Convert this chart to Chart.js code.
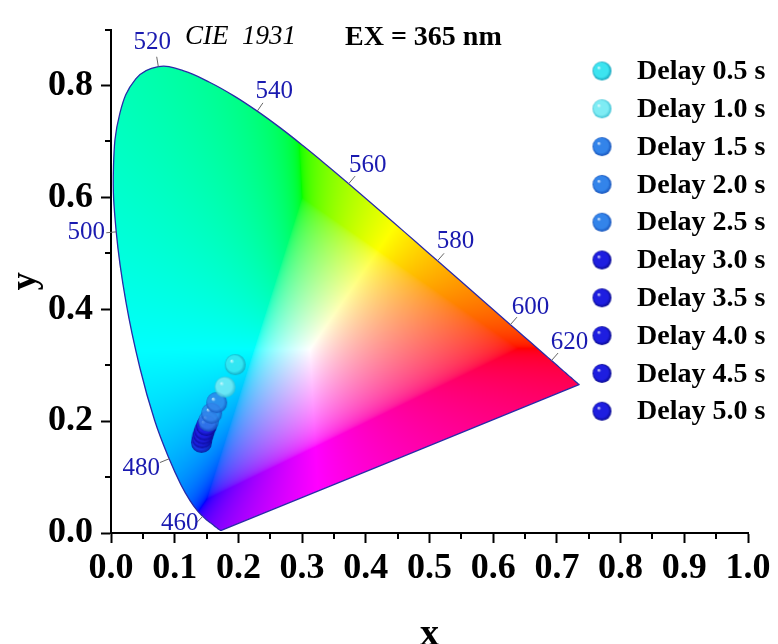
<!DOCTYPE html>
<html>
<head>
<meta charset="utf-8">
<script src="https://cdn.jsdelivr.net/npm/chart.js@4.4.1/dist/chart.umd.min.js"></script>
<style>
  body { margin: 0; background: #fff; }
  canvas { display: block; }
</style>
</head>
<body>
<canvas id="cie" width="778" height="644"></canvas>
<script>
// measured CIE coordinates of the afterglow at each delay
const delayLabels = ['Delay 0.5 s', 'Delay 1.0 s', 'Delay 1.5 s', 'Delay 2.0 s', 'Delay 2.5 s',
                     'Delay 3.0 s', 'Delay 3.5 s', 'Delay 4.0 s', 'Delay 4.5 s', 'Delay 5.0 s'];
const delayX = [0.195, 0.179, 0.166, 0.158, 0.153, 0.150, 0.147, 0.145, 0.143, 0.142];
const delayY = [0.301, 0.261, 0.233, 0.214, 0.200, 0.192, 0.184, 0.177, 0.170, 0.162];

// CIE 1931 2deg spectral locus (5 nm steps)
const locusNm = [380, 385, 390, 395, 400, 405, 410, 415, 420, 425, 430, 435, 440, 445, 450, 455,
                 460, 465, 470, 475, 480, 485, 490, 495, 500, 505, 510, 515, 520, 525, 530, 535,
                 540, 545, 550, 555, 560, 565, 570, 575, 580, 585, 590, 595, 600, 605, 610, 615,
                 620, 625, 630, 635, 640, 645, 650, 655, 660, 665, 670, 675, 680, 700];
const locusX = [0.1741, 0.1740, 0.1738, 0.1736, 0.1733, 0.1730, 0.1726, 0.1721, 0.1714, 0.1703,
                0.1689, 0.1669, 0.1644, 0.1611, 0.1566, 0.1510, 0.1440, 0.1355, 0.1241, 0.1096,
                0.0913, 0.0687, 0.0454, 0.0235, 0.0082, 0.0039, 0.0139, 0.0389, 0.0743, 0.1142,
                0.1547, 0.1929, 0.2296, 0.2658, 0.3016, 0.3373, 0.3731, 0.4087, 0.4441, 0.4788,
                0.5125, 0.5448, 0.5752, 0.6029, 0.6270, 0.6482, 0.6658, 0.6801, 0.6915, 0.7006,
                0.7079, 0.7140, 0.7190, 0.7230, 0.7260, 0.7283, 0.7300, 0.7311, 0.7320, 0.7327,
                0.7334, 0.7347];
const locusY = [0.0050, 0.0050, 0.0049, 0.0049, 0.0048, 0.0048, 0.0048, 0.0048, 0.0051, 0.0058,
                0.0069, 0.0086, 0.0109, 0.0138, 0.0177, 0.0227, 0.0297, 0.0399, 0.0578, 0.0868,
                0.1327, 0.2007, 0.2950, 0.4127, 0.5384, 0.6548, 0.7502, 0.8120, 0.8338, 0.8262,
                0.8059, 0.7816, 0.7543, 0.7243, 0.6923, 0.6589, 0.6245, 0.5896, 0.5547, 0.5202,
                0.4866, 0.4544, 0.4242, 0.3965, 0.3725, 0.3514, 0.3340, 0.3197, 0.3083, 0.2993,
                0.2920, 0.2859, 0.2809, 0.2770, 0.2740, 0.2717, 0.2700, 0.2689, 0.2680, 0.2673,
                0.2666, 0.2653];
const markNm = [460, 480, 500, 520, 540, 560, 580, 600, 620];

// look
const serif = '"Liberation Serif", "Times New Roman", serif';
const sphereBase = ['#3de4f0', '#7eecf4', '#3384ea', '#3384ea', '#3384ea',
                    '#1e1ee0', '#1e1ee0', '#1e1ee0', '#1e1ee0', '#1e1ee0'];
const sphereDark = ['#139fb8', '#3bbfd2', '#1450b8', '#1450b8', '#1450b8',
                    '#08088c', '#08088c', '#08088c', '#08088c', '#08088c'];
const labelShift = { 460: [-23, 7], 480: [-28, 10], 500: [-30, 1], 520: [-6, -24], 540: [17, -20],
                     560: [19, -18], 580: [18, -19], 600: [20, -17], 620: [18, -18] };

function sphere(base, dark, r, alpha) {
  const c = document.createElement('canvas');
  c.width = c.height = 2 * r + 2;
  const g = c.getContext('2d');
  const m = r + 1;
  const grad = g.createRadialGradient(m - r * 0.38, m - r * 0.38, 0, m, m, r);
  grad.addColorStop(0, '#ffffff');
  grad.addColorStop(0.22, base);
  grad.addColorStop(0.75, base);
  grad.addColorStop(1, dark);
  g.globalAlpha = alpha;
  g.fillStyle = grad;
  g.beginPath();
  g.arc(m, m, r, 0, Math.PI * 2);
  g.fill();
  return c;
}

// chromaticity -> display colour; out-of-gamut colours get white added
function xyToRgb(x, y) {
  const X = x / y, Y = 1, Z = (1 - x - y) / y;
  let c = [3.2406 * X - 1.5372 * Y - 0.4986 * Z,
           -0.9689 * X + 1.8758 * Y + 0.0415 * Z,
           0.0557 * X - 0.2040 * Y + 1.0570 * Z];
  const mn = Math.min(c[0], c[1], c[2]);
  if (mn < 0) c = c.map(v => v - mn);
  const mx = Math.max(c[0], c[1], c[2]) || 1;
  return c.map(v => {
    v = v / mx;
    v = v <= 0.0031308 ? 12.92 * v : 1.055 * Math.pow(v, 1 / 2.4) - 0.055;
    return Math.round(v * 255);
  });
}

let gamutImg = null;
const gamutFill = {
  id: 'gamutFill',
  beforeDatasetsDraw(chart) {
    const { ctx, chartArea: a, scales: { x, y } } = chart;
    const w = Math.round(a.right - a.left), h = Math.round(a.bottom - a.top);
    if (!gamutImg) {
      gamutImg = document.createElement('canvas');
      gamutImg.width = w; gamutImg.height = h;
      const g = gamutImg.getContext('2d');
      const img = g.createImageData(w, h);
      for (let j = 0; j < h; j++) {
        const cy = y.getValueForPixel(a.top + j + 0.5);
        if (cy <= 0.001) continue;
        for (let i = 0; i < w; i++) {
          const cx = x.getValueForPixel(a.left + i + 0.5);
          const rgb = xyToRgb(cx, cy);
          const k = (j * w + i) * 4;
          img.data[k] = rgb[0]; img.data[k + 1] = rgb[1]; img.data[k + 2] = rgb[2]; img.data[k + 3] = 255;
        }
      }
      g.putImageData(img, 0, 0);
    }
    // clip to the (smoothed) locus line drawn by dataset 0
    const line = chart.getDatasetMeta(0).dataset;
    ctx.save();
    ctx.beginPath();
    line.path(ctx);
    ctx.closePath();
    ctx.clip();
    ctx.drawImage(gamutImg, a.left, a.top);
    ctx.restore();
  }
};

const extras = {
  id: 'extras',
  afterDraw(chart) {
    const { ctx, chartArea: a, scales: { x, y } } = chart;
    ctx.save();
    // minor ticks
    ctx.strokeStyle = '#000';
    ctx.lineWidth = 2;
    ctx.beginPath();
    for (let k = 0; k < 10; k++) {
      const px = Math.round(x.getPixelForValue(0.05 + k * 0.1));
      ctx.moveTo(px, a.bottom); ctx.lineTo(px, a.bottom + 6);
    }
    for (let k = 0; k < 5; k++) {
      const py = Math.round(y.getPixelForValue(0.1 + k * 0.2));
      ctx.moveTo(a.left, py); ctx.lineTo(a.left - 6, py);
    }
    ctx.stroke();

    // wavelength marks on the locus
    const wx = x.getPixelForValue(0.33), wy = y.getPixelForValue(0.33);
    ctx.font = '25px ' + serif;
    ctx.textAlign = 'center';
    ctx.textBaseline = 'middle';
    markNm.forEach(nm => {
      const i = locusNm.indexOf(nm);
      const px = x.getPixelForValue(locusX[i]), py = y.getPixelForValue(locusY[i]);
      const tx = x.getPixelForValue(locusX[i + 1]) - x.getPixelForValue(locusX[i - 1]);
      const ty = y.getPixelForValue(locusY[i + 1]) - y.getPixelForValue(locusY[i - 1]);
      const len = Math.hypot(tx, ty);
      let nx = ty / len, ny = -tx / len;
      if (nx * (px - wx) + ny * (py - wy) < 0) { nx = -nx; ny = -ny; }
      ctx.strokeStyle = '#666';
      ctx.lineWidth = 1;
      ctx.beginPath();
      ctx.moveTo(px, py); ctx.lineTo(px + nx * 10, py + ny * 10);
      ctx.stroke();
      ctx.fillStyle = '#1a1ab0';
      ctx.fillText(String(nm), px + labelShift[nm][0], py + labelShift[nm][1]);
    });

    // header texts
    ctx.fillStyle = '#000';
    ctx.textAlign = 'left';
    ctx.textBaseline = 'alphabetic';
    ctx.font = 'italic 27px ' + serif;
    ctx.fillText('CIE  1931', 185, 44);
    ctx.font = 'bold 28px ' + serif;
    ctx.fillText('EX = 365 nm', 345, 45);

    // legend
    ctx.textBaseline = 'middle';
    chart.data.datasets.forEach((ds, i) => {
      if (!ds.legendIcon) return;
      const ly = 71 + (i - 1) * 37.8;
      ctx.drawImage(ds.legendIcon, 602 - ds.legendIcon.width / 2, ly - ds.legendIcon.height / 2);
      ctx.fillText(ds.label, 637, ly + 1);
    });
    ctx.restore();
  }
};

const datasets = [{
  type: 'line',
  label: 'locus',
  data: locusX.map((v, i) => ({ x: v, y: locusY[i] })).concat([{ x: locusX[0], y: locusY[0] }]),
  borderColor: '#2a2aa8',
  borderWidth: 1.3,
  pointRadius: 0,
  fill: false,
  tension: 0.4,
  order: 10
}];
delayLabels.forEach((lab, i) => {
  datasets.push({
    label: lab,
    data: [{ x: delayX[i], y: delayY[i] }],
    pointStyle: sphere(sphereBase[i], sphereDark[i], 10.5, 0.82),
    pointRadius: 10.5,
    legendIcon: sphere(sphereBase[i], sphereDark[i], 9.5, 1),
    order: 0
  });
});

const tickFont = { family: serif, size: 36, weight: 'bold' };

new Chart(document.getElementById('cie'), {
  type: 'scatter',
  data: { datasets },
  options: {
    responsive: false,
    animation: false,
    devicePixelRatio: 1,
    layout: { padding: { top: 16, right: 30, left: 0, bottom: 0 } },
    plugins: { legend: { display: false }, tooltip: { enabled: false } },
    scales: {
      x: {
        type: 'linear', min: 0, max: 1,
        ticks: { stepSize: 0.1, font: tickFont, color: '#000', padding: 4, callback: v => v.toFixed(1) },
        grid: { drawOnChartArea: false, tickLength: 10, tickWidth: 2, tickColor: '#000' },
        border: { color: '#000', width: 2 },
        title: { display: true, text: 'x', color: '#000', font: { family: serif, size: 38, weight: 'bold', lineHeight: 1 }, padding: { top: 0, bottom: -10 } },
        afterFit: s => { s.height = 111; }
      },
      y: {
        type: 'linear', min: 0, max: 0.9,
        ticks: { stepSize: 0.2, includeBounds: false, font: tickFont, color: '#000', padding: 8, callback: v => v.toFixed(1) },
        grid: { drawOnChartArea: false, tickLength: 10, tickWidth: 2, tickColor: '#000' },
        border: { color: '#000', width: 2 },
        title: { display: true, text: 'y', color: '#000', font: { family: serif, size: 36, weight: 'bold', lineHeight: 1 }, padding: { top: 8, bottom: 0 } },
        afterFit: s => { s.width = 111; }
      }
    }
  },
  plugins: [gamutFill, extras]
});
</script>
</body>
</html>
